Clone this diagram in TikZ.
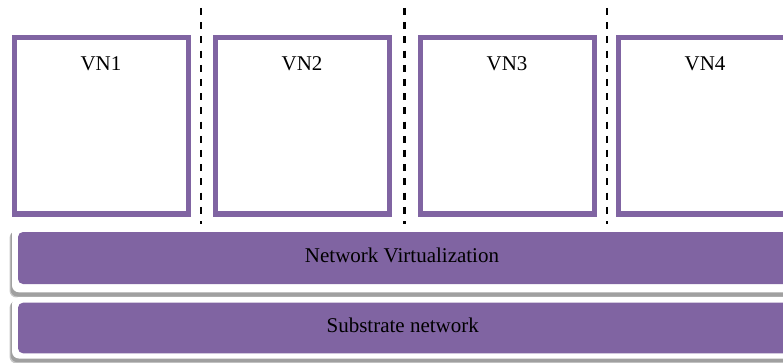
\documentclass[tikz,border=0pt]{standalone}
\usepackage{fontspec}
\setmainfont{Liberation Serif}
\begin{document}
\begin{tikzpicture}[x=1pt, y=-1pt,
  every node/.style={inner sep=0pt, outer sep=0pt},
  vnbox/.style={draw=vnpurple, line width=5pt, fill=white, minimum width=174pt, minimum height=176pt},
  bar/.style={fill=vnpurple, rounded corners=5pt, minimum width=782pt},
  lbl/.style={anchor=base, font=\fontsize{21}{25}\selectfont, text=black},
  sep/.style={line width=2.5pt, dash pattern=on 7pt off 7.2pt},
]
\definecolor{vnpurple}{RGB}{128,100,162}
\definecolor{shadowgray}{RGB}{160,160,160}
\useasboundingbox (0,0) rectangle (783,363);

% virtual network boxes
\node[vnbox] (vn1) at (101,126) {};
\node[vnbox] (vn2) at (302,126) {};
\node[vnbox] (vn3) at (507,126) {};
\node[vnbox] (vn4) at (705,126) {};
\node[lbl] (l1) at (101,71) {VN1};
\node[lbl] (l2) at (302,71) {VN2};
\node[lbl] (l3) at (507,71) {VN3};
\node[lbl] (l4) at (705,71) {VN4};

% dashed separators between the boxes
\coordinate (s1a) at (201,8);   \coordinate (s1b) at (201,224);
\coordinate (s2a) at (404.5,8); \coordinate (s2b) at (404.5,224);
\coordinate (s3a) at (607,8);   \coordinate (s3b) at (607,224);
\draw[sep] (s1a) -- (s1b);
\draw[sep] (s2a) -- (s2b);
\draw[sep] (s3a) -- (s3b);

% layer frames: soft shadow and white border
\fill[shadowgray!60, rounded corners=7pt] (9.5,231) rectangle (805,297.5);
\fill[shadowgray, rounded corners=7pt] (10.5,230) rectangle (805,296.5);
\fill[white, rounded corners=7pt] (12,226) rectangle (805,292.3);
\fill[shadowgray!60, rounded corners=7pt] (9.5,301) rectangle (805,363.5);
\fill[shadowgray, rounded corners=7pt] (10.5,300) rectangle (805,362.2);
\fill[white, rounded corners=7pt] (12,297) rectangle (805,358.5);

% layers
\node[bar, minimum height=52pt] (virt) at (409,258) {};
\node[bar, minimum height=50.6pt] (subs) at (409,328) {};
\node[lbl] (tv) at (402,262.3) {Network Virtualization};
\node[lbl] (ts) at (402.7,332.5) {Substrate network};
\end{tikzpicture}
\end{document}
